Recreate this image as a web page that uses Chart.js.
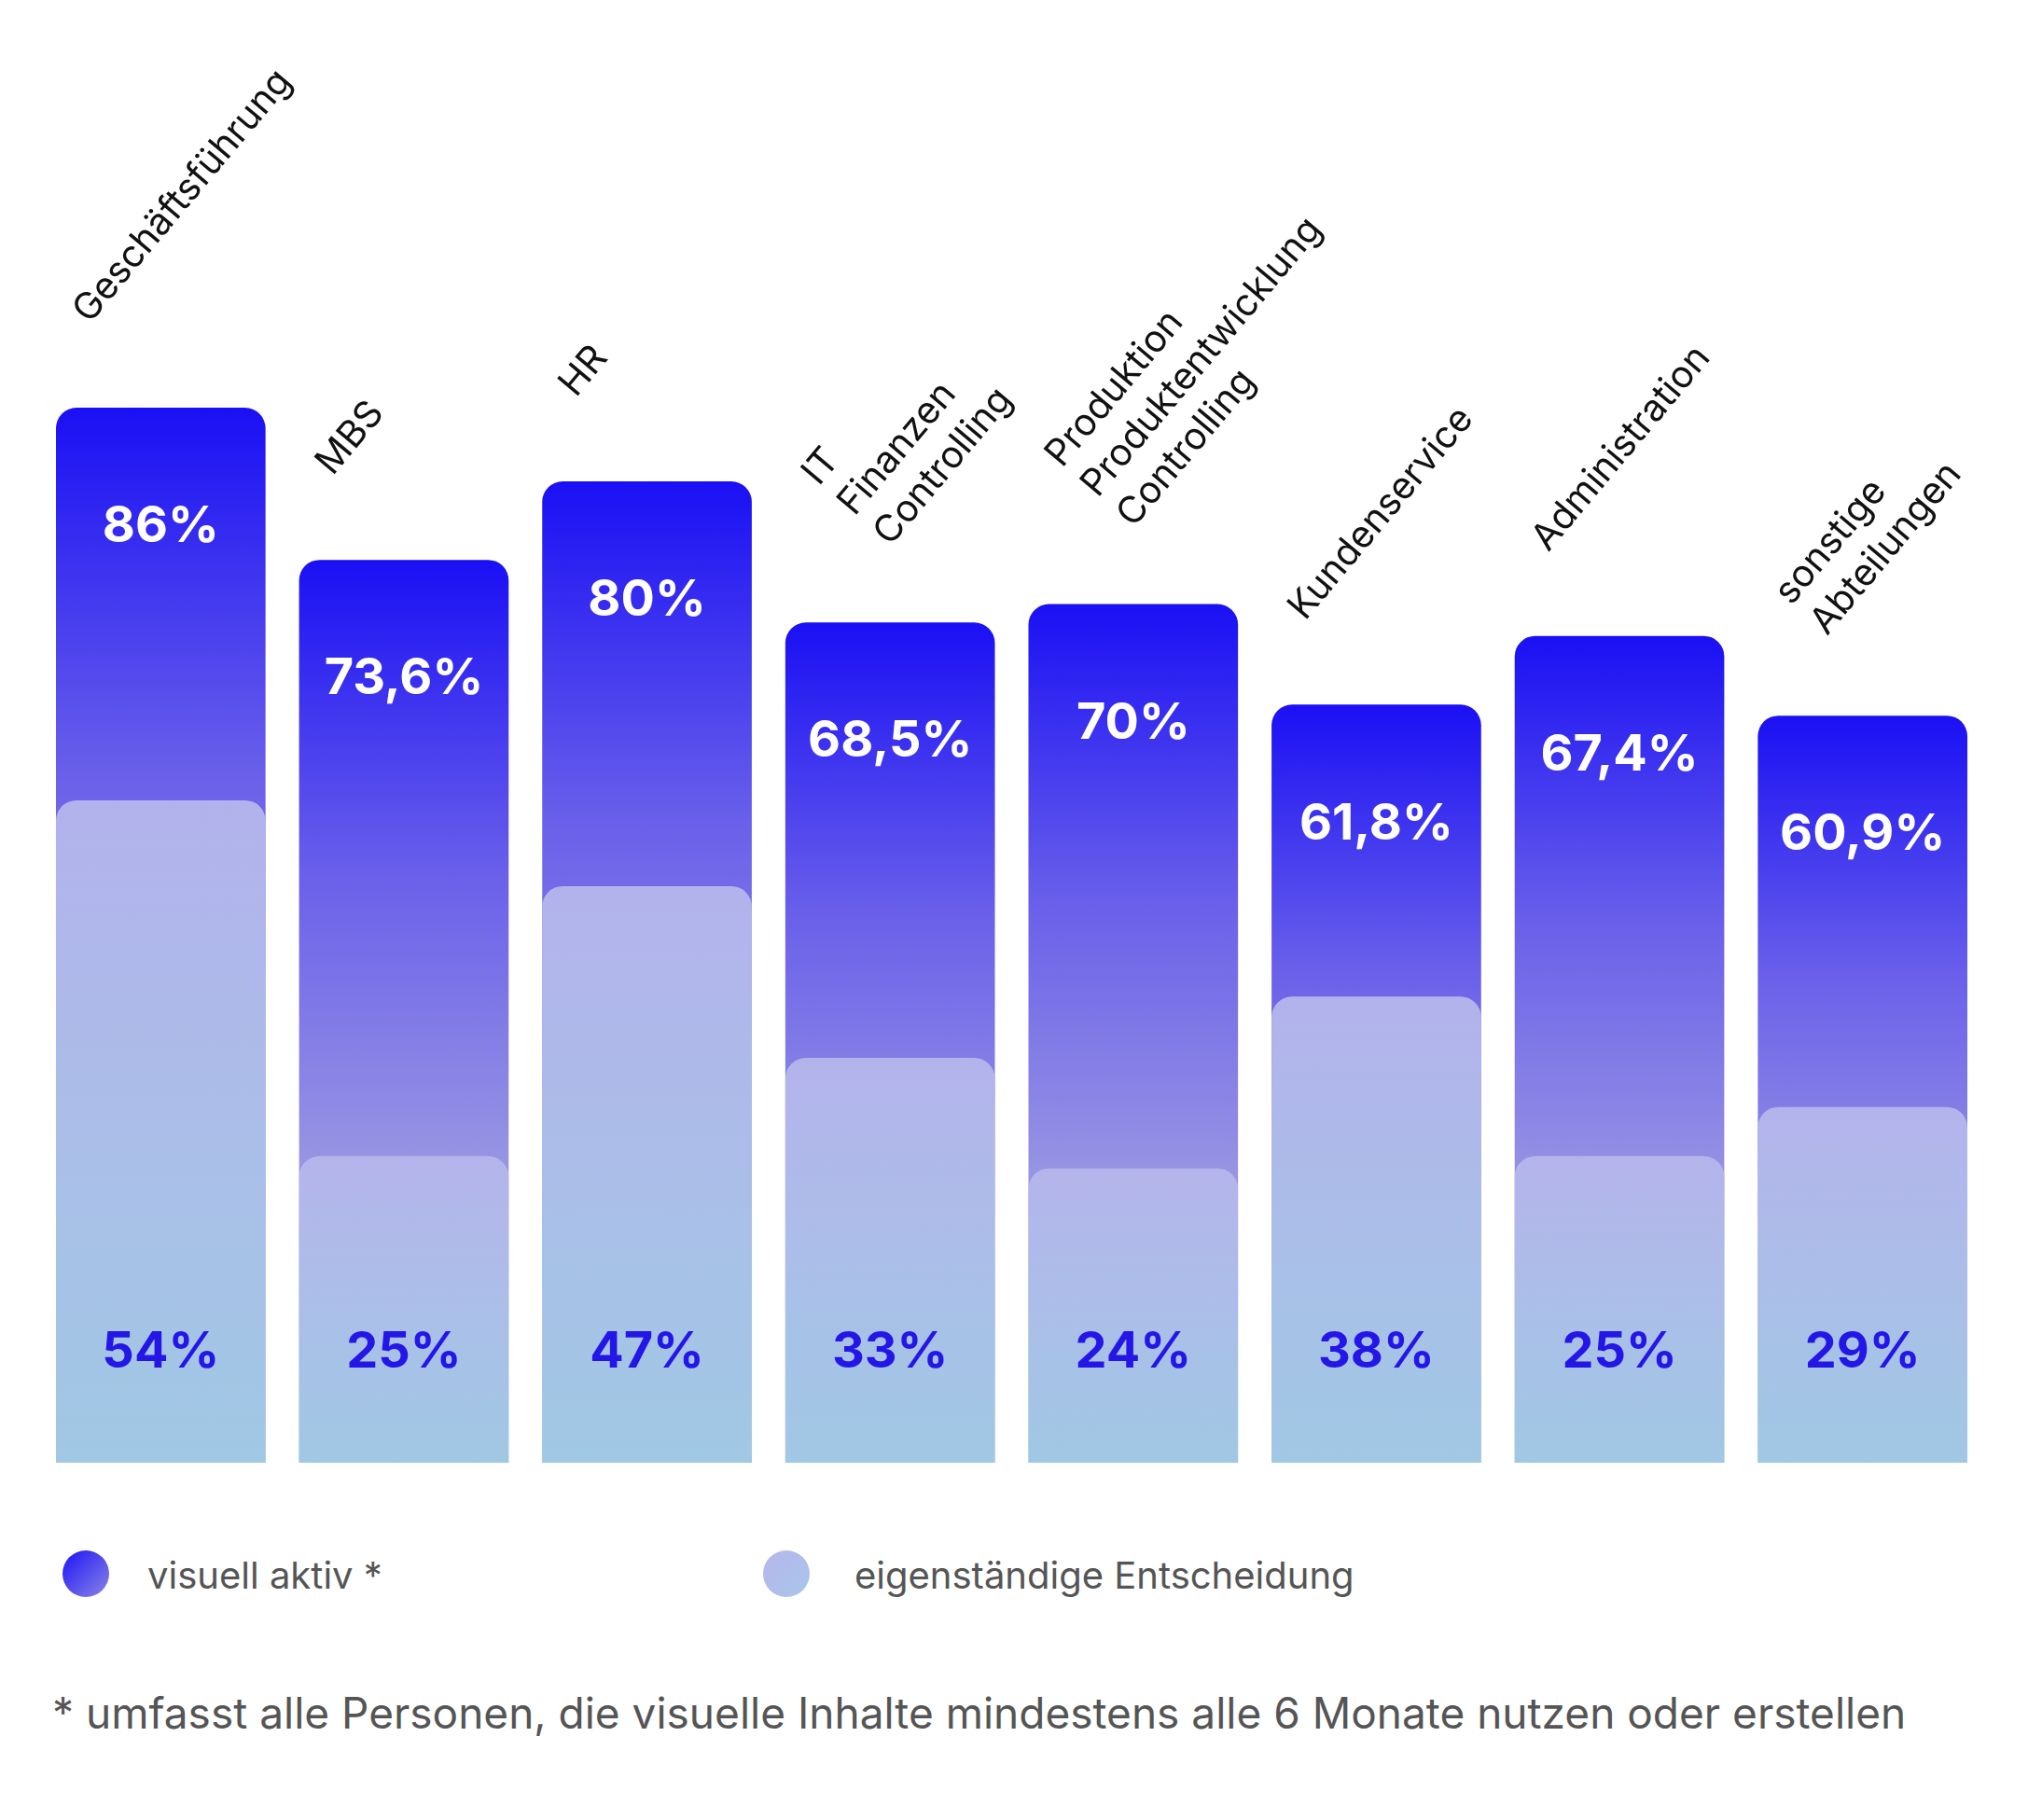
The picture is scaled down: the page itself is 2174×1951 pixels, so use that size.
<!DOCTYPE html>
<html lang="de">
<head>
<meta charset="UTF-8">
<title>Visuell aktiv nach Abteilung</title>
<style>
    html, body { margin: 0; padding: 0; background: #fff; width: 2174px; height: 1951px; overflow: hidden; }
    body { position: relative; font-family: Inter, "Noto Sans", sans-serif; color: #555; }
    #wrap { position: absolute; left: 0; top: 0; width: 2174px; height: 1620px; }
    .dot { position: absolute; width: 50px; height: 50px; border-radius: 50%; }
    .lg { position: absolute; font-size: 40px; line-height: 50px; color: #555; }
    #note { position: absolute; left: 56px; top: 1808px; font-size: 46px; color: #555; }
</style>
</head>
<body>
<div id="wrap"><canvas id="chart"></canvas></div>
<div class="dot" style="left:67px;top:1662px;background:linear-gradient(135deg,#1c12f5,#8a86e6);"></div>
<div class="lg" style="left:158px;top:1664px;">visuell aktiv *</div>
<div class="dot" style="left:818px;top:1662px;background:linear-gradient(135deg,#b6b6ec,#a8c6ea);"></div>
<div class="lg" style="left:916px;top:1664px;">eigenständige Entscheidung</div>
<div id="note">* umfasst alle Personen, die visuelle Inhalte mindestens alle 6 Monate nutzen oder erstellen</div>

<script src="https://cdn.jsdelivr.net/npm/chart.js"></script>
<script>
const categories = [
    ['Geschäftsführung'],
    ['MBS'],
    ['HR'],
    ['IT', 'Finanzen', 'Controlling'],
    ['Produktion', 'Produktentwicklung', 'Controlling'],
    ['Kundenservice'],
    ['Administration'],
    ['sonstige', 'Abteilungen']
];
const visuellAktiv = [86, 73.6, 80, 68.5, 70, 61.8, 67.4, 60.9];
const visuellLabels = ['86%', '73,6%', '80%', '68,5%', '70%', '61,8%', '67,4%', '60,9%'];
const eigenstaendig = [54, 25, 47, 33, 24, 38, 25, 29];
const eigenLabels = ['54%', '25%', '47%', '33%', '24%', '38%', '25%', '29%'];

function barGradient(ctx, top, bottom, stops) {
    const g = ctx.createLinearGradient(0, top, 0, bottom);
    stops.forEach(s => g.addColorStop(s[0], s[1]));
    return g;
}

function darkFill(context) {
    const chart = context.chart;
    if (!chart.chartArea || context.parsed === undefined) return '#5a50ea';
    const top = chart.scales.y.getPixelForValue(context.parsed.y);
    return barGradient(chart.ctx, top, chart.chartArea.bottom, [
        [0, '#1a10f4'], [0.35, '#6a60ea'], [0.7, '#9c9ae2'], [1, '#a8bfe4']
    ]);
}

function lightFill(context) {
    const chart = context.chart;
    if (!chart.chartArea || context.parsed === undefined) return '#b0bde8';
    const top = chart.scales.y.getPixelForValue(context.parsed.y);
    return barGradient(chart.ctx, top, chart.chartArea.bottom, [
        [0, 'rgba(182,182,236,0.95)'], [1, 'rgba(160,200,228,0.98)']
    ]);
}

// Kategorienamen schräg über den Balken, Werte in den Balken
const labelPlugin = {
    id: 'labelPlugin',
    afterDatasetsDraw(chart) {
        const ctx = chart.ctx;
        const dark = chart.getDatasetMeta(0).data;
        const bottom = chart.chartArea.bottom;
        ctx.save();
        dark.forEach((bar, i) => {
            const left = bar.x - bar.width / 2;
            ctx.textAlign = 'center';
            ctx.textBaseline = 'middle';
            ctx.font = 'bold 54px Inter, "Noto Sans", sans-serif';
            ctx.fillStyle = '#ffffff';
            ctx.fillText(visuellLabels[i], bar.x, bar.y + 128);
            ctx.fillStyle = '#2516e8';
            ctx.fillText(eigenLabels[i], bar.x, bottom - 118);
            const lines = categories[i];
            ctx.save();
            ctx.translate(left + 42, bar.y - 84 - (lines.length - 1) * 28);
            ctx.rotate(-50 * Math.PI / 180);
            ctx.font = '40px Inter, "Noto Sans", sans-serif';
            ctx.fillStyle = '#111';
            ctx.textAlign = 'left';
            ctx.textBaseline = 'bottom';
            lines.forEach((line, j) => {
                ctx.fillText(line, 0, j * 50);
            });
            ctx.restore();
        });
        ctx.restore();
    }
};

new Chart(document.getElementById('chart'), {
    type: 'bar',
    data: {
        labels: categories.map(c => c.join(' ')),
        datasets: [
            {
                label: 'visuell aktiv *',
                data: visuellAktiv,
                backgroundColor: darkFill,
                borderRadius: { topLeft: 22, topRight: 22, bottomLeft: 0, bottomRight: 0 },
                borderSkipped: false,
                order: 2
            },
            {
                label: 'eigenständige Entscheidung',
                data: eigenstaendig,
                backgroundColor: lightFill,
                borderRadius: { topLeft: 22, topRight: 22, bottomLeft: 0, bottomRight: 0 },
                borderSkipped: false,
                order: 1
            }
        ]
    },
    options: {
        responsive: true,
        maintainAspectRatio: false,
        animation: false,
        layout: { padding: { left: 42, right: 47, top: 253, bottom: 52 } },
        datasets: { bar: { grouped: false, barPercentage: 0.862, categoryPercentage: 1 } },
        plugins: { legend: { display: false }, tooltip: { enabled: false } },
        scales: {
            x: { display: false },
            y: { display: false, min: 0, max: 100 }
        }
    },
    plugins: [labelPlugin]
});
</script>
</body>
</html>
